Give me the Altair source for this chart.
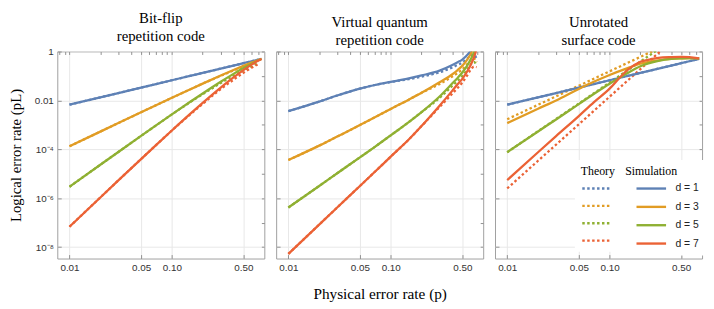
import altair as alt
import pandas as pd

SERIF = "Liberation Serif"
SANS = "Liberation Sans"

D_VALUES = [1, 3, 5, 7]
COLORS = ["#5E81B5", "#E19C24", "#8FB032", "#EB6235"]

X_MAJOR = [0.01, 0.05, 0.1, 0.5]
X_MINOR = [0.008, 0.009, 0.01, 0.02, 0.03, 0.04, 0.05, 0.06, 0.07, 0.08, 0.09,
           0.1, 0.2, 0.3, 0.4, 0.5, 0.6, 0.7]
Y_MAJOR = [1, 1e-2, 1e-4, 1e-6, 1e-8]
Y_MINOR = [1, 1e-1, 1e-2, 1e-3, 1e-4, 1e-5, 1e-6, 1e-7, 1e-8]
X_DOMAIN = [0.0076, 0.8]
Y_DOMAIN = [3.4e-9, 1]

TITLES = [["Bit-flip", "repetition code"],
          ["Virtual quantum", "repetition code"],
          ["Unrotated", "surface code"]]
X_TITLE = "Physical error rate (p)"
Y_TITLE = "Logical error rate (pL)"

# ---------------- Panel 1: bit-flip repetition code ----------------
P1_SIM_P = [0.01, 0.02, 0.03, 0.05, 0.07, 0.1, 0.15, 0.2, 0.3, 0.4, 0.5, 0.6, 0.7, 0.75]
P1_SIM = {
    1: [6.67e-3, 1.333e-2, 2.0e-2, 3.333e-2, 4.667e-2, 6.667e-2, 0.1, 0.1333, 0.2, 0.2667, 0.3333, 0.4, 0.4667, 0.5],
    3: [1.327e-4, 5.286e-4, 1.184e-3, 3.259e-3, 6.33e-3, 1.274e-2, 2.8e-2, 4.86e-2, 0.104, 0.1754, 0.2593, 0.352, 0.4501, 0.5],
    5: [2.934e-6, 2.323e-5, 7.76e-5, 3.52e-4, 9.465e-4, 2.675e-3, 8.56e-3, 1.921e-2, 5.792e-2, 0.1219, 0.2099, 0.3174, 0.4377, 0.5],
    7: [6.80e-8, 1.071e-6, 5.335e-6, 3.985e-5, 1.481e-4, 5.868e-4, 2.728e-3, 7.900e-3, 3.334e-2, 8.697e-2, 0.1733, 0.2898, 0.4274, 0.5],
}
P1_TH_P = [0.01, 0.02, 0.03, 0.05, 0.07, 0.1, 0.15, 0.2, 0.3, 0.4, 0.5, 0.6, 0.7]
P1_TH = {
    1: [6.67e-3, 1.333e-2, 2.0e-2, 3.333e-2, 4.667e-2, 6.667e-2, 0.1, 0.1333, 0.2, 0.2667, 0.3333, 0.4, 0.4667],
    3: [1.327e-4, 5.286e-4, 1.184e-3, 3.259e-3, 6.33e-3, 1.274e-2, 2.8e-2, 4.86e-2, 0.1009, 0.1666, 0.2386, 0.3168, 0.3826],
    5: [2.934e-6, 2.323e-5, 7.76e-5, 3.52e-4, 9.465e-4, 2.675e-3, 8.3e-3, 1.79e-2, 5.1e-2, 0.1024, 0.168, 0.248, 0.34],
    7: [6.80e-8, 1.071e-6, 5.335e-6, 3.985e-5, 1.481e-4, 5.868e-4, 2.6e-3, 7.2e-3, 2.9e-2, 7.0e-2, 0.135, 0.215, 0.31],
}

# ---------------- Panel 2: virtual quantum repetition code ----------------
P2_SIM_P = {
    1: [0.01, 0.02, 0.03, 0.05, 0.07, 0.1, 0.15, 0.2, 0.3, 0.4, 0.45, 0.5, 0.55, 0.6, 0.63, 0.66],
    3: [0.01, 0.02, 0.03, 0.05, 0.07, 0.1, 0.15, 0.2, 0.3, 0.4, 0.45, 0.5, 0.55, 0.6, 0.63, 0.66],
    5: [0.01, 0.02, 0.03, 0.05, 0.07, 0.1, 0.15, 0.2, 0.3, 0.4, 0.45, 0.5, 0.55, 0.6, 0.65, 0.68],
    7: [0.01, 0.02, 0.03, 0.05, 0.07, 0.1, 0.15, 0.2, 0.3, 0.4, 0.45, 0.5, 0.55, 0.6, 0.65, 0.7],
}
P2_SIM = {
    1: [3.63e-3, 8.91e-3, 1.585e-2, 3.02e-2, 4.27e-2, 5.75e-2, 7.94e-2, 0.1047, 0.166, 0.282, 0.363, 0.468, 0.676, 1.0, 1.318, 1.995],
    3: [3.63e-5, 1.413e-4, 3.31e-4, 9.77e-4, 2.04e-3, 4.47e-3, 1.072e-2, 2.04e-2, 5.50e-2, 0.1175, 0.1738, 0.263, 0.427, 0.759, 1.122, 1.778],
    5: [4.17e-7, 3.16e-6, 1.047e-5, 4.68e-5, 1.259e-4, 3.72e-4, 1.288e-3, 3.31e-3, 1.445e-2, 5.01e-2, 8.32e-2, 0.138, 0.24, 0.447, 0.912, 1.585],
    7: [5.25e-9, 8.32e-8, 4.17e-7, 3.16e-6, 1.202e-5, 5.01e-5, 2.51e-4, 8.91e-4, 6.03e-3, 2.51e-2, 4.57e-2, 7.59e-2, 0.138, 0.269, 0.575, 1.585],
}
P2_TH_P = [0.01, 0.02, 0.03, 0.05, 0.07, 0.1, 0.15, 0.2, 0.3, 0.4, 0.45, 0.5, 0.55, 0.6, 0.65, 0.69]
P2_TH = {
    1: [3.63e-3, 8.91e-3, 1.585e-2, 3.02e-2, 4.27e-2, 5.62e-2, 7.41e-2, 9.33e-2, 0.1413, 0.2239, 0.2818, 0.3548, 0.4786, 0.6607, 0.7586, 0.5012],
    3: [3.63e-5, 1.413e-4, 3.31e-4, 9.77e-4, 2.04e-3, 4.47e-3, 1.072e-2, 2.04e-2, 4.68e-2, 9.55e-2, 0.1318, 0.1862, 0.2818, 0.4365, 0.5248, 0.3631],
    5: [4.17e-7, 3.16e-6, 1.047e-5, 4.68e-5, 1.259e-4, 3.72e-4, 1.288e-3, 3.31e-3, 1.259e-2, 3.98e-2, 6.31e-2, 0.1, 0.166, 0.288, 0.372, 0.269],
    7: [5.25e-9, 8.32e-8, 4.17e-7, 3.16e-6, 1.202e-5, 5.01e-5, 2.51e-4, 8.91e-4, 5.37e-3, 1.905e-2, 3.24e-2, 5.37e-2, 9.55e-2, 0.17, 0.24, 0.229],
}

# ---------------- Panel 3: unrotated surface code ----------------
P3_SIM_P = {
    1: [0.01, 0.02, 0.03, 0.05, 0.07, 0.1, 0.15, 0.2, 0.3, 0.4, 0.5, 0.6, 0.75],
    3: [0.01, 0.02, 0.03, 0.05, 0.07, 0.1, 0.15, 0.2, 0.3, 0.4, 0.5, 0.6, 0.75],
    5: [0.01, 0.02, 0.03, 0.05, 0.07, 0.1, 0.15, 0.2, 0.3, 0.4, 0.5, 0.6, 0.75],
    7: [0.01, 0.02, 0.03, 0.05, 0.07, 0.1, 0.13, 0.15, 0.2, 0.25, 0.3, 0.4, 0.5, 0.6, 0.75],
}
P3_SIM = {
    1: [6.67e-3, 1.333e-2, 2.0e-2, 3.333e-2, 4.667e-2, 6.667e-2, 0.1, 0.1333, 0.2, 0.2667, 0.3333, 0.4, 0.5],
    3: [1.175e-3, 4.57e-3, 1.0e-2, 2.95e-2, 5.75e-2, 0.1096, 0.209, 0.316, 0.437, 0.501, 0.525, 0.537, 0.525],
    5: [7.59e-5, 5.37e-4, 1.66e-3, 7.08e-3, 1.82e-2, 4.79e-2, 0.132, 0.251, 0.417, 0.501, 0.525, 0.537, 0.525],
    7: [5.50e-6, 7.59e-5, 3.47e-4, 2.29e-3, 8.32e-3, 3.02e-2, 0.1, 0.178, 0.38, 0.479, 0.55, 0.589, 0.603, 0.589, 0.525],
}
P3_TH_P = {
    1: [0.01, 0.02, 0.03, 0.05, 0.07, 0.1, 0.15, 0.2, 0.3, 0.4, 0.5, 0.6, 0.75],
    3: [0.01, 0.02, 0.05, 0.1, 0.2, 0.3],
    5: [0.01, 0.02, 0.05, 0.1, 0.2, 0.3],
    7: [0.01, 0.02, 0.05, 0.1, 0.2, 0.35],
}
P3_TH = {
    1: [6.67e-3, 1.333e-2, 2.0e-2, 3.333e-2, 4.667e-2, 6.667e-2, 0.1, 0.1333, 0.2, 0.2667, 0.3333, 0.4, 0.5],
    3: [1.70e-3, 6.61e-3, 3.98e-2, 0.155, 0.603, 1.334],
    5: [7.59e-5, 5.50e-4, 7.41e-3, 5.37e-2, 0.389, 1.23],
    7: [2.51e-6, 3.39e-5, 1.047e-3, 1.413e-2, 0.191, 1.549],
}


def to_df(p_by_d, v_by_d):
    rows = []
    for d in D_VALUES:
        ps = p_by_d[d] if isinstance(p_by_d, dict) else p_by_d
        for p, v in zip(ps, v_by_d[d]):
            rows.append({"d": d, "p": p, "pl": v})
    return pd.DataFrame(rows)


PANELS = [
    (to_df(P1_TH_P, P1_TH), to_df(P1_SIM_P, P1_SIM)),
    (to_df(P2_TH_P, P2_TH), to_df(P2_SIM_P, P2_SIM)),
    (to_df(P3_TH_P, P3_TH), to_df(P3_SIM_P, P3_SIM)),
]

Y_LABEL_EXPR = ("datum.value > 0.5 ? '1' : datum.value > 0.005 ? '0.01' : "
                "datum.value > 5e-5 ? '10\u207b\u2074' : datum.value > 5e-7 ? '10\u207b\u2076' : '10\u207b\u2078'")

FRAME = "#a0a0a0"
GRID = "#e8e8e8"
TICK = "#909090"


def make_panel(idx, th_df, sim_df):
    first = idx == 0
    mid = idx == 1
    last = idx == 2
    xs = alt.Scale(type="log", domain=X_DOMAIN, nice=False)
    ys = alt.Scale(type="log", domain=Y_DOMAIN, nice=False)

    xb = dict(orient="bottom", values=X_MAJOR, format=".2f", grid=True, gridColor=GRID,
              domain=False, tickSize=4, offset=-4, tickColor=TICK, labelPadding=4,
              labelFont=SANS, labelFontSize=10, labelColor="#333333",
              titleFont=SERIF, titleFontSize=15.5, titleFontWeight="normal",
              titleColor="black", titlePadding=15)
    xb["title"] = X_TITLE if mid else None
    yl = dict(orient="left", values=Y_MAJOR, grid=True, gridColor=GRID, domain=False,
              tickSize=4, offset=-4, tickColor=TICK, labels=first, labelExpr=Y_LABEL_EXPR,
              labelPadding=4, labelFont=SANS, labelFontSize=10, labelColor="#333333",
              titleFont=SERIF, titleFontSize=15, titleFontWeight="normal",
              titleColor="black", titlePadding=11)
    yl["title"] = Y_TITLE if first else None
    xt = alt.Axis(orient="top", values=X_MINOR, grid=False, domain=False, labels=False,
                  tickSize=3, offset=-3, tickColor=TICK, title=None)
    yr = alt.Axis(orient="right", values=Y_MINOR, grid=False, domain=False, labels=False,
                  tickSize=3, offset=-3, tickColor=TICK, title=None)

    cs = alt.Scale(domain=D_VALUES, range=COLORS)
    if last:
        leg_th = alt.Legend(title="Theory", orient="none", legendX=81, legendY=110,
                            symbolType="M-2,0H2", symbolSize=225, symbolStrokeWidth=2.4,
                            symbolDash=[2.5, 2.5], symbolOffset=7.5, labelExpr="''",
                            labelOffset=0, titleFont=SERIF, titleFontSize=12,
                            titleFontWeight="normal", titleColor="black", titlePadding=2,
                            fillColor="white", padding=6, rowPadding=3.6)
        leg_sim = alt.Legend(title="Simulation", orient="none", legendX=126, legendY=110,
                             symbolType="M-2,0H2", symbolSize=225, symbolStrokeWidth=2.4,
                             symbolOffset=17.5, labelExpr="'d = ' + datum.label",
                             labelOffset=15.5, labelFont=SANS, labelFontSize=10.5,
                             labelColor="#222222", titleFont=SERIF, titleFontSize=12,
                             titleFontWeight="normal", titleColor="black", titlePadding=2,
                             fillColor="white", padding=6, rowPadding=3.6)
    else:
        leg_th = None
        leg_sim = None

    theory = alt.Chart(th_df).mark_line(strokeWidth=2.3, strokeDash=[2.5, 2.5], clip=True,
                                        interpolate="monotone").encode(
        x=alt.X("p:Q", scale=xs, axis=alt.Axis(**xb)),
        y=alt.Y("pl:Q", scale=ys, axis=alt.Axis(**yl)),
        color=alt.Color("d:N", scale=cs, legend=leg_th),
    )
    sim = alt.Chart(sim_df).mark_line(strokeWidth=2.3, clip=True, interpolate="monotone").encode(
        x=alt.X("p:Q", scale=xs, axis=xt),
        y=alt.Y("pl:Q", scale=ys, axis=yr),
        color=alt.Color("d:N", scale=cs, legend=leg_sim),
    )
    return alt.layer(theory, sim).resolve_scale(color="independent").resolve_axis(
        x="independent", y="independent"
    ).properties(
        width=210, height=210,
        title=alt.TitleParams(text=TITLES[idx], font=SERIF, fontSize=15, fontWeight="normal",
                              color="black", lineHeight=18, offset=3, anchor="middle"),
    )


panels = [make_panel(i, th, sm) for i, (th, sm) in enumerate(PANELS)]

chart = alt.hconcat(*panels, spacing=10).resolve_scale(color="independent").properties(
    padding={"left": 0, "top": 0, "right": 0, "bottom": 0}
).configure_view(stroke=FRAME, strokeWidth=1)

chart.save("out.html", embed_options={"renderer": "svg", "actions": False})
